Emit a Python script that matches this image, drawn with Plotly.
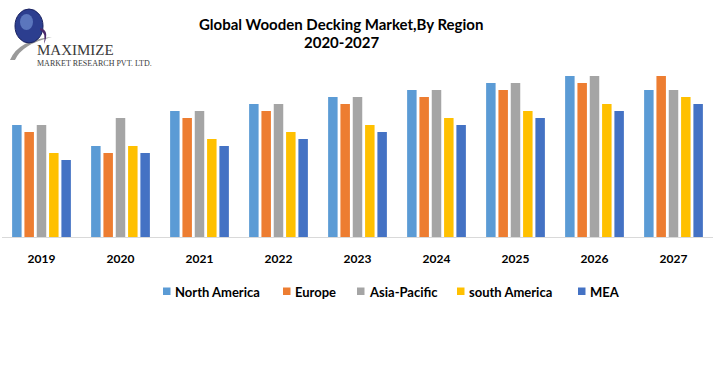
import plotly.graph_objects as go

years = ["2019", "2020", "2021", "2022", "2023", "2024", "2025", "2026", "2027"]
north_america = [16, 13, 18, 19, 20, 21, 22, 23, 21]
europe = [15, 12, 17, 18, 19, 20, 21, 22, 23]
asia_pacific = [16, 17, 18, 19, 20, 21, 22, 23, 21]
south_america = [12, 13, 14, 15, 16, 17, 18, 19, 20]
mea = [11, 12, 13, 14, 15, 16, 17, 18, 19]

series_names = ["North America", "Europe", "Asia-Pacific", "south America", "MEA"]
series_values = [north_america, europe, asia_pacific, south_america, mea]
series_colors = ["#5B9BD5", "#ED7D31", "#A5A5A5", "#FFC000", "#4472C4"]

W, H = 718, 373
ml, mr, mt, mb = 2, 5, 62, 136


def xp(px):
    return (px - ml) / (W - ml - mr)


def yp(py):
    return (H - mb - py) / (H - mt - mb)


fig = go.Figure()
for name, vals, color in zip(series_names, series_values, series_colors):
    fig.add_trace(go.Bar(x=years, y=vals, name=name, marker_color=color,
                         marker_line_width=0, showlegend=False))

FONT = "Lato"
fig.update_layout(
    width=W, height=H,
    margin=dict(l=ml, r=mr, t=mt, b=mb),
    paper_bgcolor="white", plot_bgcolor="white",
    barmode="group", bargap=0.22, bargroupgap=0.23,
    showlegend=False,
    font=dict(family=FONT, color="#000000"),
)
fig.update_xaxes(showline=True, linecolor="#D9D9D9", linewidth=1, ticks="",
                 tickfont=dict(family=FONT, size=12, color="#000000", weight="bold"),
                 ticklabelstandoff=11, showgrid=False)
fig.update_yaxes(range=[0, 25], visible=False, showgrid=False)

# Title
fig.add_annotation(xref="paper", yref="paper", x=xp(341), y=yp(24),
                   text="<b>Global Wooden Decking Market,By Region</b>", showarrow=False,
                   font=dict(family=FONT, size=15, color="#000000"), xanchor="center", yanchor="middle")
fig.add_annotation(xref="paper", yref="paper", x=xp(341), y=yp(42),
                   text="<b>2020-2027</b>", showarrow=False,
                   font=dict(family=FONT, size=15, color="#000000"), xanchor="center", yanchor="middle")

# Legend (drawn manually to match the compact layout)
legend_marker_x = [163, 283, 357, 457, 578]
for name, color, mx in zip(series_names, series_colors, legend_marker_x):
    fig.add_shape(type="rect", xref="paper", yref="paper",
                  x0=xp(mx), x1=xp(mx + 7.5), y0=yp(295), y1=yp(287.5),
                  fillcolor=color, line=dict(width=0))
    fig.add_annotation(xref="paper", yref="paper", x=xp(mx + 10), y=yp(291.5),
                       text="<b>" + name + "</b>", showarrow=False, xanchor="left", yanchor="middle",
                       font=dict(family=FONT, size=13, color="#000000"))

# Logo
fig.add_shape(type="path", xref="paper", yref="paper", layer="above",
              path=f"M {xp(10)} {yp(60)} Q {xp(18)} {yp(40)} {xp(52)} {yp(37)} Q {xp(22)} {yp(44)} {xp(15)} {yp(60)} Z",
              fillcolor="#9A9A9A", line=dict(width=0))
fig.add_shape(type="circle", xref="paper", yref="paper", layer="above",
              x0=xp(15), x1=xp(43), y0=yp(43), y1=yp(9),
              fillcolor="#2C3E8F", line=dict(color="#1A2260", width=1))
fig.add_shape(type="circle", xref="paper", yref="paper", layer="above",
              x0=xp(20), x1=xp(33), y0=yp(30), y1=yp(14),
              fillcolor="#6F8FD0", line=dict(width=0), opacity=0.7)
fig.add_shape(type="path", xref="paper", yref="paper", layer="above",
              path=f"M {xp(40)} {yp(28)} Q {xp(50)} {yp(30)} {xp(44)} {yp(44)} Q {xp(46)} {yp(32)} {xp(40)} {yp(30)} Z",
              fillcolor="#4B2A6B", line=dict(width=0))
fig.add_annotation(xref="paper", yref="paper", x=xp(35), y=yp(50),
                   text="MAXIMIZE", showarrow=False, xanchor="left", yanchor="middle",
                   font=dict(family="Liberation Serif", size=15, color="#3A3A3A"))
fig.add_annotation(xref="paper", yref="paper", x=xp(35), y=yp(63.5),
                   text="MARKET RESEARCH PVT. LTD.", showarrow=False, xanchor="left", yanchor="middle",
                   font=dict(family="Liberation Serif", size=8, color="#3A3A3A"))

fig.write_html("out.html", config={"displayModeBar": False},
               post_script="document.body.style.margin='0';")
